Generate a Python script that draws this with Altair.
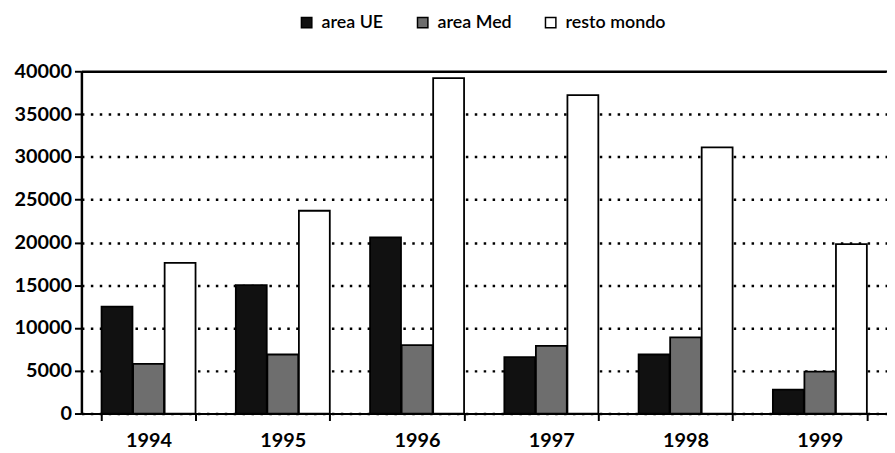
import altair as alt
import pandas as pd

years = ["1994", "1995", "1996", "1997", "1998", "1999"]
series = ["area UE", "area Med", "resto mondo"]
area_ue = [12500, 15000, 20600, 6600, 6900, 2800]
area_med = [5800, 6900, 8000, 7900, 8900, 4900]
resto_mondo = [17600, 23700, 39200, 37200, 31100, 19800]
colors = ["#111111", "#6e6e6e", "#ffffff"]

rows = []
for i, y in enumerate(years):
    for s, vals in zip(series, [area_ue, area_med, resto_mondo]):
        rows.append({"anno": y, "serie": s, "valore": vals[i]})
df = pd.DataFrame(rows)

FONT = "Lato"

chart = (
    alt.Chart(df)
    .mark_bar(stroke="black", strokeWidth=1.8)
    .encode(
        x=alt.X(
            "anno:N",
            sort=years,
            title=None,
            scale=alt.Scale(paddingInner=0.3, paddingOuter=0.15),
            axis=alt.Axis(
                labelAngle=0,
                labelFont=FONT,
                labelFontSize=20,
                labelFontWeight="bold",
                labelColor="black",
                labelPadding=10,
                tickBand="extent",
                tickColor="black",
                tickWidth=2,
                tickSize=7,
                domainColor="black",
                domainWidth=2,
                grid=False,
            ),
        ),
        xOffset=alt.XOffset("serie:N", sort=series, scale=alt.Scale(paddingInner=0.02)),
        y=alt.Y(
            "valore:Q",
            title=None,
            scale=alt.Scale(domain=[0, 40000], nice=False),
            axis=alt.Axis(
                values=[0, 5000, 10000, 15000, 20000, 25000, 30000, 35000, 40000],
                format="d",
                labelFont=FONT,
                labelFontSize=20,
                labelFontWeight="bold",
                labelColor="black",
                labelPadding=3,
                tickColor="black",
                tickWidth=2,
                tickSize=7,
                domainColor="black",
                domainWidth=2.5,
                grid=True,
                gridColor="black",
                gridWidth=2.5,
                gridDash={"condition": {"test": "datum.value == 40000", "value": [1, 0]}, "value": [2.5, 6.5]},
                gridOpacity=1,
            ),
        ),
        fill=alt.Fill(
            "serie:N",
            sort=series,
            scale=alt.Scale(domain=series, range=colors),
            legend=alt.Legend(
                title=None,
                orient="none",
                legendX=218,
                legendY=-58,
                direction="horizontal",
                symbolType="square",
                symbolSize=110,
                symbolStrokeColor="black",
                symbolStrokeWidth=1.5,
                labelFont=FONT,
                labelFontSize=18,
                labelFontWeight=600,
                labelColor="black",
                columnPadding=30,
                symbolOffset=0,
                labelOffset=6,
            ),
        ),
    )
    .properties(
        width=812,
        height=345,
        autosize=alt.AutoSizeParams(type="none"),
        padding={"left": 74, "top": 62, "right": 0, "bottom": 38},
    )
    .configure_view(stroke=None)
)

chart.save("out.html", embed_options={"renderer": "svg", "actions": False})
